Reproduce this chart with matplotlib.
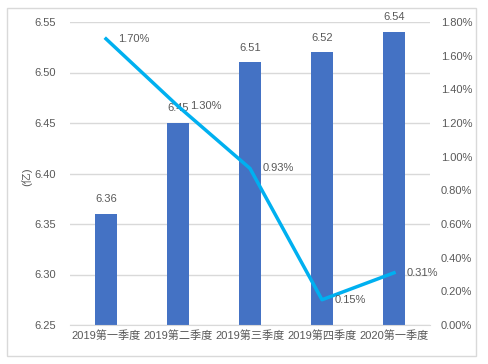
import matplotlib.pyplot as plt
from matplotlib.patches import Rectangle

plt.rcParams['font.family'] = ['Liberation Sans', 'Noto Sans CJK SC', 'DejaVu Sans']

# data
quarters = ['2019第一季度', '2019第二季度', '2019第三季度', '2019第四季度', '2020第一季度']
amount = [6.36, 6.45, 6.51, 6.52, 6.54]
growth = [1.70, 1.30, 0.93, 0.15, 0.31]

text_color = '#595959'
grid_color = '#D9D9D9'

fig = plt.figure(figsize=(4.88, 3.64), dpi=100)
fig.patches.append(Rectangle((7 / 488, 8 / 364), 469 / 488, 348 / 364,
                             transform=fig.transFigure, fill=False,
                             edgecolor='#D9D9D9', linewidth=1))

ax = fig.add_axes([70 / 488, 39 / 364, 360 / 488, 303 / 364])
x = list(range(len(quarters)))

ax.bar(x, amount, width=0.3, color='#4472C4', zorder=2)
for xi, v in zip(x, amount):
    ax.annotate(f'{v:.2f}', (xi, v), xytext=(0, 7), textcoords='offset points',
                ha='center', va='bottom', fontsize=8, color=text_color)

ax.set_ylim(6.25, 6.55)
ax.set_yticks([6.25, 6.30, 6.35, 6.40, 6.45, 6.50, 6.55])
ax.set_xlim(-0.5, 4.5)
ax.set_xticks(x)
ax.set_xticklabels(quarters)
ax.yaxis.grid(True, color=grid_color, linewidth=1, zorder=0)
ax.set_axisbelow(True)
for s in ['left', 'right', 'top']:
    ax.spines[s].set_visible(False)
ax.spines['bottom'].set_color(grid_color)
ax.tick_params(axis='both', length=0, labelsize=8, labelcolor=text_color)
ax.tick_params(axis='y', pad=10)
ax.tick_params(axis='x', pad=4)
ax.set_ylabel('(亿)', color=text_color, fontsize=8)
ax.yaxis.set_label_coords(-0.105, 0.49)

ax2 = ax.twinx()
ax2.plot(x, growth, color='#00B0F0', linewidth=2.5, zorder=3)
for xi, v in zip(x, growth):
    ax2.annotate(f'{v:.2f}%', (xi, v), xytext=(9, 0), textcoords='offset points',
                 ha='left', va='center', fontsize=8, color=text_color)
ax2.set_ylim(0, 1.8)
ax2.set_yticks([i * 0.2 for i in range(10)])
ax2.set_yticklabels([f'{i * 0.2:.2f}%' for i in range(10)])
for s in ['left', 'right', 'top', 'bottom']:
    ax2.spines[s].set_visible(False)
ax2.tick_params(axis='y', length=0, labelsize=8, labelcolor=text_color, pad=8)

fig.savefig('out.png', dpi=100)
